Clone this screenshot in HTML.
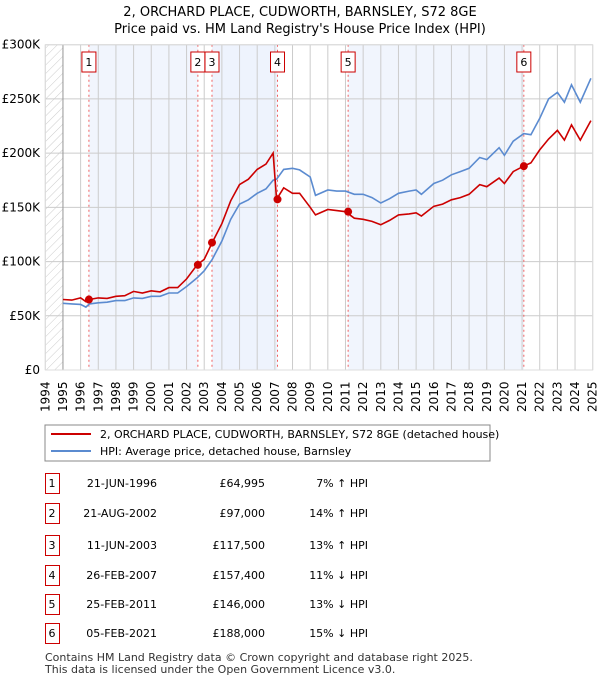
<!DOCTYPE html>
<html><head><meta charset="utf-8">
<style>
body{margin:0;background:#fff;font-family:"DejaVu Sans","Liberation Sans",sans-serif;}
svg text{font-family:"DejaVu Sans","Liberation Sans",sans-serif;}
</style></head>
<body>
<svg id="chart" width="600" height="680" xmlns="http://www.w3.org/2000/svg">
<defs>
<pattern id="hatch" patternUnits="userSpaceOnUse" width="6" height="6" patternTransform="rotate(45)">
<line x1="0" y1="0" x2="0" y2="6" stroke="#ccc" stroke-width="1"/></pattern>
</defs>
<text x="300" y="16" text-anchor="middle" font-size="13">2, ORCHARD PLACE, CUDWORTH, BARNSLEY, S72 8GE</text>
<text x="300" y="33" text-anchor="middle" font-size="13">Price paid vs. HM Land Registry's House Price Index (HPI)</text>
<g id="plot"></g>
<rect x="45" y="425" width="445" height="36" fill="#fff" stroke="#888"/>
<line x1="51" y1="434" x2="91" y2="434" stroke="#cc0000" stroke-width="2"/>
<text x="100" y="438" font-size="11">2, ORCHARD PLACE, CUDWORTH, BARNSLEY, S72 8GE (detached house)</text>
<line x1="51" y1="451" x2="91" y2="451" stroke="#5b8bd0" stroke-width="2"/>
<text x="100" y="455" font-size="11">HPI: Average price, detached house, Barnsley</text>
<g id="table"></g>
<text x="45" y="661" font-size="11" fill="#333">Contains HM Land Registry data © Crown copyright and database right 2025.</text>
<text x="45" y="673" font-size="11" fill="#333">This data is licensed under the Open Government Licence v3.0.</text>
</svg>
<script>
const NS="http://www.w3.org/2000/svg";
const years=[1995,1995.5,1996,1996.3,1996.5,1997,1997.5,1998,1998.5,1999,1999.5,2000,2000.5,2001,2001.5,2002,2002.6,2003,2003.45,2004,2004.5,2005,2005.5,2006,2006.5,2006.9,2007.1,2007.5,2008,2008.4,2009,2009.3,2010,2010.5,2011,2011.5,2012,2012.5,2013,2013.5,2014,2014.6,2015,2015.3,2016,2016.5,2017,2017.5,2018,2018.6,2019,2019.7,2020,2020.5,2021.1,2021.5,2022,2022.5,2023,2023.4,2023.8,2024.3,2024.9];
const hpiValues=[61.5,61,60.5,58,61,62,62.5,64,64,66.5,66,68,68,71,71,77,85,91.5,102,119,139,153,157,163,167,175,176,185,186,184.5,178,161,166,165,165,162,162,159,154,158,163,165,166,162,172,175,180,183,186,196,194,205,198,211,218,217,232,250,256,247,263,247,269];
const propValues=[65,64.5,66.5,63,65,66.5,66,68,68.5,72.5,71,73,72,76,76,84,97,102,117.5,135,156,171,176,185,190,200,157.4,168,163,163,150,143,148,147,146,140,139,137,134,138,143,144,145,142,151,153,157,159,162,171,169,177,172,183,188,191,203,213,221,212,226,212,230];
const saleLabels=["1","2","3","4","5","6"];
const saleYears=[1996.47,2002.64,2003.44,2007.15,2011.15,2021.1];
const salePrices=[64.995,97,117.5,157.4,146,188];
const saleDates=["21-JUN-1996","21-AUG-2002","11-JUN-2003","26-FEB-2007","25-FEB-2011","05-FEB-2021"];
const salePriceText=["£64,995","£97,000","£117,500","£157,400","£146,000","£188,000"];
const saleHpiText=["7% ↑ HPI","14% ↑ HPI","13% ↑ HPI","11% ↓ HPI","13% ↓ HPI","15% ↓ HPI"];
const yTicks=[0,50,100,150,200,250,300];
const yTickLabels=["£0","£50K","£100K","£150K","£200K","£250K","£300K"];
const xTicks=[1994,1995,1996,1997,1998,1999,2000,2001,2002,2003,2004,2005,2006,2007,2008,2009,2010,2011,2012,2013,2014,2015,2016,2017,2018,2019,2020,2021,2022,2023,2024,2025];

const X0=45.3,X1=592.7,Y0=370,Y1=44.7;
const xs=y=>X0+(y-1994)/(2025-1994)*(X1-X0);
const ys=v=>Y0-v/300*(Y0-Y1);
const plot=document.getElementById('plot');
function el(t,a,p){const e=document.createElementNS(NS,t);for(const k in a)e.setAttribute(k,a[k]);(p||plot).appendChild(e);return e;}

let bg=el('rect',{x:X0,y:Y1,width:X1-X0,height:Y0-Y1,fill:'#fff'});


// shaded spans between consecutive sales (alternating)
for(let i=0;i<saleYears.length-1;i+=2){
  const r=el('rect',{x:xs(saleYears[i]),y:Y1,width:xs(saleYears[i+1])-xs(saleYears[i]),height:Y0-Y1,fill:'#eef3fc',opacity:0.8});
  
  
}
{const r=el('rect',{x:xs(2003.44),y:Y1,width:xs(2007.15)-xs(2003.44),height:Y0-Y1,fill:'#eef3fc',opacity:0.8});

}
let h=el('rect',{x:X0,y:Y1,width:xs(1995)-X0,height:Y0-Y1,fill:'url(#hatch)'});


yTicks.forEach((v,i)=>{
  const l=el('line',{x1:X0,x2:X1,y1:ys(v),y2:ys(v),stroke:'#ccc'});
  
  
  const t=el('text',{x:40,y:ys(v)+4,'text-anchor':'end','font-size':12});
  t.textContent=yTickLabels[i];
  
  
});
xTicks.forEach(yr=>{
  const l=el('line',{x1:xs(yr),x2:xs(yr),y1:Y1,y2:Y0,stroke:'#ccc'});
  
  
  const t=el('text',{x:0,y:0,'font-size':12,transform:`translate(${xs(yr)+4},${Y0+42}) rotate(-90)`});
  t.textContent=yr;
  
  
});
let ax=el('line',{x1:xs(1995),x2:xs(1995),y1:Y1,y2:Y0,stroke:'#999'});


saleYears.forEach((yr,i)=>{
  const l=el('line',{x1:xs(yr),x2:xs(yr),y1:Y1,y2:Y0,stroke:'#f06060','stroke-dasharray':'2,3'});
  
  
  const b=el('rect',{x:xs(yr)-7,y:52,width:14,height:20,fill:'#fff',stroke:'#cc0000'});
  
  
  const t=el('text',{x:xs(yr),y:66,'text-anchor':'middle','font-size':11});
  t.textContent=saleLabels[i];
  
  
});
const pts=a=>years.map((y,i)=>xs(y).toFixed(1)+','+ys(a[i]).toFixed(1)).join(' ');
let hl=el('polyline',{points:pts(hpiValues),fill:'none',stroke:'#5b8bd0','stroke-width':1.6});


let pl=el('polyline',{points:pts(propValues),fill:'none',stroke:'#cc0000','stroke-width':1.6});


saleYears.forEach((yr,i)=>{
  const c=el('circle',{cx:xs(yr),cy:ys(salePrices[i]),r:4,fill:'#cc0000'});
  
  
});
let border=el('rect',{x:X0,y:Y1,width:X1-X0,height:Y0-Y1,fill:'none',stroke:'#ddd'});



const tbl=document.getElementById('table');
const rowY=[483,513,545,575,604,633];
saleLabels.forEach((lab,i)=>{
  const y=rowY[i];
  const b=el('rect',{x:45.5,y:y-9.5,width:14,height:20,fill:'#fff',stroke:'#cc0000'},tbl);
  
  
  const items=[[52,'middle',lab,'table-sale-number'],[157,'end',saleDates[i],'table-sale-date'],[265,'end',salePriceText[i],'table-sale-price'],[368,'end',saleHpiText[i],'table-hpi-diff']];
  items.forEach(it=>{
    const t=el('text',{x:it[0],y:y+4,'text-anchor':it[1],'font-size':11},tbl);
    t.textContent=it[2];
    
    
  });
});
</script>
</body></html>
